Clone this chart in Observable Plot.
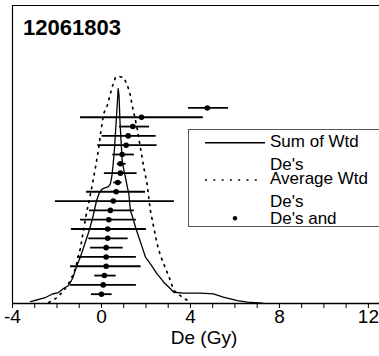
<!DOCTYPE html>
<html><head><meta charset="utf-8">
<script src="https://cdn.jsdelivr.net/npm/d3@7"></script>
<script src="https://cdn.jsdelivr.net/npm/@observablehq/plot@0.6"></script>
<style>
html,body{margin:0;padding:0;background:#fff;}
#wrap{position:relative;width:379px;height:356px;overflow:hidden;font-family:"Liberation Sans",Arial,sans-serif;color:#000;}
#title{position:absolute;left:23px;top:17.4px;font-size:22px;font-weight:bold;line-height:22px;white-space:nowrap;}
#legend{position:absolute;left:188px;top:129px;width:220px;height:98px;border:1px solid #555;box-sizing:border-box;background:#fff;}
.lt{position:absolute;font-size:17px;line-height:14px;white-space:nowrap;}
#legsvg{position:absolute;left:0;top:0;}
</style></head><body><div id="wrap"></div>
<script>
// Individual De's (Gy), top row first, with error-bar limits
const deValues = [4.76, 1.80, 1.41, 1.20, 1.11, 0.93, 0.85, 0.85, 0.73, 0.66, 0.53, 0.40, 0.33, 0.28, 0.28, 0.21, 0.21, 0.21, 0.13, 0.08, 0.00];
const errLow   = [3.91, -0.94, 0.81, 0.03, -0.17, 0.51, 0.71, 0.13, 0.55, -0.67, -2.07, -0.54, -0.94, -1.35, -0.57, -0.49, -1.07, -1.39, -0.30, -1.39, -0.45];
const errHigh  = [5.71, 4.58, 2.16, 2.46, 2.50, 1.48, 1.11, 1.60, 0.93, 1.98, 3.28, 1.48, 1.57, 2.02, 1.20, 0.98, 1.57, 1.78, 0.66, 1.57, 0.48];

// Sum of weighted De's (solid curve)
const sumX = [-3.19, -2.83, -2.52, -2.20, -1.93, -1.71, -1.48, -1.30, -1.12, -0.94, -0.76, -0.58, -0.40, -0.22, -0.09, 0.04, 0.31, 0.40, 0.47, 0.52, 0.58, 0.65, 0.72, 0.75,
              0.79, 0.83, 0.88, 0.93, 1.01, 1.08, 1.15, 1.23, 1.30, 1.42, 1.53, 1.68, 1.83, 1.98, 2.20, 2.50, 2.80, 3.10, 3.25, 3.70, 4.45, 5.03, 5.48, 6.11, 6.56, 7.24];
const sumY = [0.21, 0.43, 0.64, 1.02, 1.18, 1.61, 1.93, 2.68, 3.97, 5.05, 6.34, 7.62, 9.13, 11.06, 11.92, 12.32, 12.56, 12.85, 13.74, 14.82, 16.43, 19.11, 21.80, 23.06,
              22.34, 19.65, 17.50, 15.36, 14.28, 13.53, 12.67, 11.78, 9.99, 9.13, 8.19, 7.12, 6.05, 4.97, 4.26, 3.19, 2.29, 1.58, 1.21, 1.11, 1.11, 1.04, 0.68, 0.32, 0.14, 0.03];

// Average weighted De's (dotted curve)
const avgX = [-2.37, -1.99, -1.69, -1.39, -1.17, -0.94, -0.85, -0.67, -0.57, -0.42, -0.27, -0.12, -0.04, 0.03, 0.10, 0.26, 0.48, 0.63, 0.78,
              1.00, 1.17, 1.30, 1.38, 1.53, 1.62, 1.75, 1.90, 2.05, 2.20, 2.35, 2.50, 2.65, 2.95, 3.10, 3.25, 3.63, 4.00];
const avgY = [0.11, 0.64, 1.40, 2.47, 3.76, 6.01, 7.30, 9.77, 10.85, 12.67, 14.60, 16.75, 18.26, 19.33, 20.40, 21.26, 23.23, 24.30, 24.38,
              24.27, 23.41, 22.34, 21.26, 19.65, 18.58, 16.75, 14.64, 12.85, 9.99, 8.19, 6.41, 5.15, 3.36, 2.47, 1.40, 0.68, 0.14];

const xTicks = d3.range(-4, 13);
const xLabels = [-4, 0, 4, 8, 12];
const titleText = "12061803";
const xTitle = "De (Gy)";
const legendItems = [
  {lines: ["Sum of Wtd", "De's"], type: "solid"},
  {lines: ["Average Wtd", "De's"], type: "dotted"},
  {lines: ["De's and"], type: "dot"}
];

const rows = deValues.map((v, i) => ({de: v, lo: errLow[i], hi: errHigh[i], row: deValues.length - i}));
const sum = sumX.map((x, i) => ({x, y: sumY[i]}));
const avg = avgX.map((x, i) => ({x, y: avgY[i]}));

const chart = Plot.plot({
  width: 379, height: 356,
  marginLeft: 12, marginRight: 0, marginTop: 5, marginBottom: 53,
  x: {domain: [-4, 12.5]},
  y: {domain: [0, 32], axis: null},
  style: {fontFamily: "'Liberation Sans', Arial, sans-serif", fontSize: "19px", color: "black", background: "white", overflow: "visible"},
  marks: [
    Plot.ruleY([32], {strokeWidth: 1.2}),
    Plot.ruleX([-4], {strokeWidth: 1.2}),
    Plot.line(avg, {x: "x", y: "y", strokeDasharray: "1.6,5.4", strokeWidth: 1.7}),
    Plot.line(sum, {x: "x", y: "y", strokeWidth: 1.3}),
    Plot.ruleY(rows, {y: "row", x1: "lo", x2: "hi", strokeWidth: 1.8}),
    Plot.dot(rows, {x: "de", y: "row", r: 2.8, fill: "black", stroke: "none"}),
    Plot.ruleY([0], {strokeWidth: 1.6}),
    Plot.axisX({ticks: xTicks, tickSize: 5, tickPadding: 0.5, tickFormat: d => xLabels.includes(d) ? String(d) : "", label: null}),
    Plot.text([xTitle], {frameAnchor: "bottom", dx: 8, dy: 40, fontSize: 19})
  ]
});

const wrap = document.getElementById("wrap");
wrap.appendChild(chart);

const t = document.createElement("div");
t.id = "title"; t.textContent = titleText;
wrap.appendChild(t);

const lg = document.createElement("div");
lg.id = "legend";
wrap.appendChild(lg);

// legend samples
const ns = "http://www.w3.org/2000/svg";
const ls = document.createElementNS(ns, "svg");
ls.setAttribute("id", "legsvg");
ls.setAttribute("width", 379); ls.setAttribute("height", 356);
wrap.appendChild(ls);
const sampleY = [142.7, 180, 218.3];
const textBaselines = [[148.3, 170.7], [185, 208.3], [225]];
legendItems.forEach((it, i) => {
  if (it.type === "dot") {
    const c = document.createElementNS(ns, "circle");
    c.setAttribute("cx", 235); c.setAttribute("cy", sampleY[i]); c.setAttribute("r", 2.2);
    ls.appendChild(c);
  } else {
    const l = document.createElementNS(ns, "line");
    l.setAttribute("x1", 205); l.setAttribute("x2", it.type === "solid" ? 265 : 262);
    l.setAttribute("y1", sampleY[i]); l.setAttribute("y2", sampleY[i]);
    l.setAttribute("stroke", "black");
    l.setAttribute("stroke-width", it.type === "solid" ? 1.6 : 1.5);
    if (it.type === "dotted") l.setAttribute("stroke-dasharray", "2,6.3");
    ls.appendChild(l);
  }
  it.lines.forEach((s, j) => {
    const sp = document.createElement("div");
    sp.className = "lt"; sp.textContent = s;
    sp.style.left = "270px"; sp.style.top = (textBaselines[i][j] - 12.9) + "px";
    wrap.appendChild(sp);
  });
});
</script>
</body></html>
